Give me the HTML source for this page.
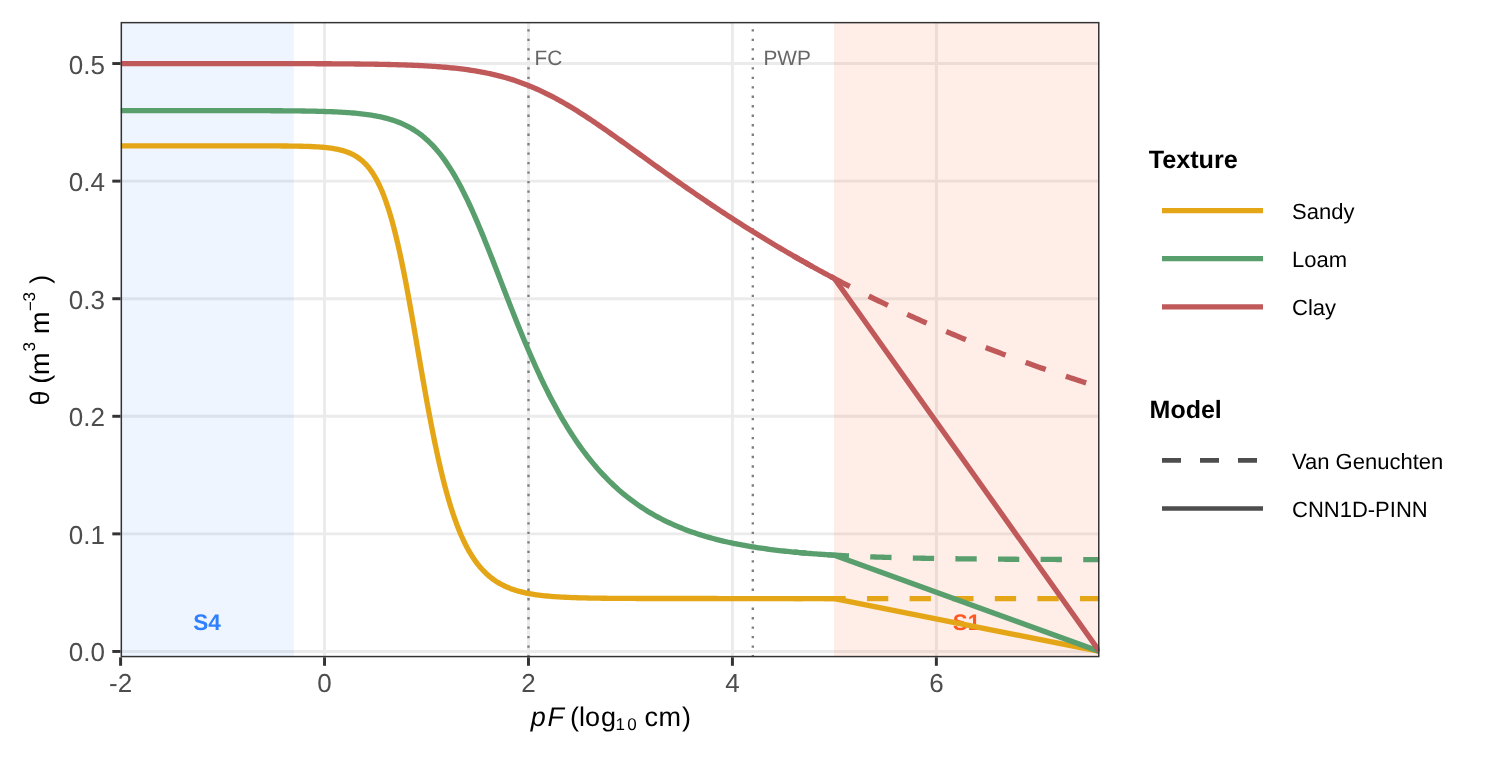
<!DOCTYPE html>
<html><head><meta charset="utf-8"><style>html,body{margin:0;padding:0;background:#fff;width:1500px;height:760px;overflow:hidden;}svg{display:block;font-family:"Liberation Sans",sans-serif;text-rendering:geometricPrecision;}</style></head><body><div style="will-change:transform;width:1500px;height:760px">
<svg width="1500" height="760" viewBox="0 0 1500 760" font-family='"Liberation Sans", sans-serif'>
<rect x="0" y="0" width="1500" height="760" fill="#FFFFFF"/>
<defs><clipPath id="pc"><rect x="120.6" y="21.9" width="978.90" height="635.40"/></clipPath></defs>
<g clip-path="url(#pc)">
<line x1="120.6" x2="1099.5" y1="651.45" y2="651.45" stroke="#EBEBEB" stroke-width="2.96"/>
<line x1="120.6" x2="1099.5" y1="533.87" y2="533.87" stroke="#EBEBEB" stroke-width="2.96"/>
<line x1="120.6" x2="1099.5" y1="416.29" y2="416.29" stroke="#EBEBEB" stroke-width="2.96"/>
<line x1="120.6" x2="1099.5" y1="298.71" y2="298.71" stroke="#EBEBEB" stroke-width="2.96"/>
<line x1="120.6" x2="1099.5" y1="181.13" y2="181.13" stroke="#EBEBEB" stroke-width="2.96"/>
<line x1="120.6" x2="1099.5" y1="63.55" y2="63.55" stroke="#EBEBEB" stroke-width="2.96"/>
<line y1="21.9" y2="657.3" x1="120.60" x2="120.60" stroke="#EBEBEB" stroke-width="2.96"/>
<line y1="21.9" y2="657.3" x1="324.54" x2="324.54" stroke="#EBEBEB" stroke-width="2.96"/>
<line y1="21.9" y2="657.3" x1="528.48" x2="528.48" stroke="#EBEBEB" stroke-width="2.96"/>
<line y1="21.9" y2="657.3" x1="732.42" x2="732.42" stroke="#EBEBEB" stroke-width="2.96"/>
<line y1="21.9" y2="657.3" x1="936.36" x2="936.36" stroke="#EBEBEB" stroke-width="2.96"/>
<rect x="120.6" y="21.9" width="173.24" height="635.40" fill="#2E80FF" fill-opacity="0.08"/>
<rect x="833.89" y="21.9" width="265.61" height="635.40" fill="#FF5722" fill-opacity="0.1"/>
<text x="207.02" y="630.00" font-size="22.5" font-weight="bold" text-anchor="middle" fill="#2E80FF">S4</text>
<text x="966.45" y="630.00" font-size="22.5" font-weight="bold" text-anchor="middle" fill="#FF5722">S1</text>
<line x1="528.48" x2="528.48" y1="657.3" y2="21.9" stroke="#7F7F7F" stroke-width="2.37" stroke-dasharray="2.37 7.11"/>
<line x1="752.81" x2="752.81" y1="657.3" y2="21.9" stroke="#7F7F7F" stroke-width="2.37" stroke-dasharray="2.37 7.11"/>
<text x="534.60" y="64.60" font-size="20.8" fill="#666666">FC</text>
<text x="763.50" y="64.60" font-size="20.8" fill="#666666">PWP</text>
<path d="M793.60,598.54 L795.64,598.54 L797.68,598.54 L799.72,598.54 L801.76,598.54 L803.80,598.54 L805.84,598.54 L807.88,598.54 L809.92,598.54 L811.96,598.54 L814.00,598.54 L816.04,598.54 L818.07,598.54 L820.11,598.54 L822.15,598.54 L824.19,598.54 L826.23,598.54 L828.27,598.54 L830.31,598.54 L832.35,598.54 L834.39,598.54 L836.43,598.54 L838.47,598.54 L840.51,598.54 L842.55,598.54 L844.59,598.54 L846.63,598.54 L848.67,598.54 L850.71,598.54 L852.74,598.54 L854.78,598.54 L856.82,598.54 L858.86,598.54 L860.90,598.54 L862.94,598.54 L864.98,598.54 L867.02,598.54 L869.06,598.54 L871.10,598.54 L873.14,598.54 L875.18,598.54 L877.22,598.54 L879.26,598.54 L881.30,598.54 L883.34,598.54 L885.38,598.54 L887.41,598.54 L889.45,598.54 L891.49,598.54 L893.53,598.54 L895.57,598.54 L897.61,598.54 L899.65,598.54 L901.69,598.54 L903.73,598.54 L905.77,598.54 L907.81,598.54 L909.85,598.54 L911.89,598.54 L913.93,598.54 L915.97,598.54 L918.01,598.54 L920.04,598.54 L922.08,598.54 L924.12,598.54 L926.16,598.54 L928.20,598.54 L930.24,598.54 L932.28,598.54 L934.32,598.54 L936.36,598.54 L938.40,598.54 L940.44,598.54 L942.48,598.54 L944.52,598.54 L946.56,598.54 L948.60,598.54 L950.64,598.54 L952.68,598.54 L954.71,598.54 L956.75,598.54 L958.79,598.54 L960.83,598.54 L962.87,598.54 L964.91,598.54 L966.95,598.54 L968.99,598.54 L971.03,598.54 L973.07,598.54 L975.11,598.54 L977.15,598.54 L979.19,598.54 L981.23,598.54 L983.27,598.54 L985.31,598.54 L987.35,598.54 L989.38,598.54 L991.42,598.54 L993.46,598.54 L995.50,598.54 L997.54,598.54 L999.58,598.54 L1001.62,598.54 L1003.66,598.54 L1005.70,598.54 L1007.74,598.54 L1009.78,598.54 L1011.82,598.54 L1013.86,598.54 L1015.90,598.54 L1017.94,598.54 L1019.98,598.54 L1022.01,598.54 L1024.05,598.54 L1026.09,598.54 L1028.13,598.54 L1030.17,598.54 L1032.21,598.54 L1034.25,598.54 L1036.29,598.54 L1038.33,598.54 L1040.37,598.54 L1042.41,598.54 L1044.45,598.54 L1046.49,598.54 L1048.53,598.54 L1050.57,598.54 L1052.61,598.54 L1054.65,598.54 L1056.68,598.54 L1058.72,598.54 L1060.76,598.54 L1062.80,598.54 L1064.84,598.54 L1066.88,598.54 L1068.92,598.54 L1070.96,598.54 L1073.00,598.54 L1075.04,598.54 L1077.08,598.54 L1079.12,598.54 L1081.16,598.54 L1083.20,598.54 L1085.24,598.54 L1087.28,598.54 L1089.32,598.54 L1091.35,598.54 L1093.39,598.54 L1095.43,598.54 L1097.47,598.54 L1099.51,598.54" fill="none" stroke="#E4A616" stroke-width="5.33" stroke-dasharray="21.3 21.3" stroke-dashoffset="11.8"/>
<path d="M793.60,552.07 L795.64,552.26 L797.68,552.45 L799.72,552.64 L801.76,552.82 L803.80,552.99 L805.84,553.17 L807.88,553.33 L809.92,553.50 L811.96,553.66 L814.00,553.81 L816.04,553.96 L818.07,554.11 L820.11,554.25 L822.15,554.39 L824.19,554.53 L826.23,554.66 L828.27,554.79 L830.31,554.92 L832.35,555.04 L834.39,555.16 L836.43,555.27 L838.47,555.39 L840.51,555.50 L842.55,555.61 L844.59,555.71 L846.63,555.81 L848.67,555.91 L850.71,556.01 L852.74,556.11 L854.78,556.20 L856.82,556.29 L858.86,556.38 L860.90,556.46 L862.94,556.55 L864.98,556.63 L867.02,556.71 L869.06,556.78 L871.10,556.86 L873.14,556.93 L875.18,557.00 L877.22,557.07 L879.26,557.14 L881.30,557.21 L883.34,557.27 L885.38,557.33 L887.41,557.40 L889.45,557.45 L891.49,557.51 L893.53,557.57 L895.57,557.62 L897.61,557.68 L899.65,557.73 L901.69,557.78 L903.73,557.83 L905.77,557.88 L907.81,557.93 L909.85,557.97 L911.89,558.02 L913.93,558.06 L915.97,558.11 L918.01,558.15 L920.04,558.19 L922.08,558.23 L924.12,558.27 L926.16,558.30 L928.20,558.34 L930.24,558.37 L932.28,558.41 L934.32,558.44 L936.36,558.48 L938.40,558.51 L940.44,558.54 L942.48,558.57 L944.52,558.60 L946.56,558.63 L948.60,558.66 L950.64,558.68 L952.68,558.71 L954.71,558.74 L956.75,558.76 L958.79,558.79 L960.83,558.81 L962.87,558.84 L964.91,558.86 L966.95,558.88 L968.99,558.90 L971.03,558.92 L973.07,558.94 L975.11,558.96 L977.15,558.98 L979.19,559.00 L981.23,559.02 L983.27,559.04 L985.31,559.06 L987.35,559.08 L989.38,559.09 L991.42,559.11 L993.46,559.12 L995.50,559.14 L997.54,559.16 L999.58,559.17 L1001.62,559.18 L1003.66,559.20 L1005.70,559.21 L1007.74,559.23 L1009.78,559.24 L1011.82,559.25 L1013.86,559.26 L1015.90,559.28 L1017.94,559.29 L1019.98,559.30 L1022.01,559.31 L1024.05,559.32 L1026.09,559.33 L1028.13,559.34 L1030.17,559.35 L1032.21,559.36 L1034.25,559.37 L1036.29,559.38 L1038.33,559.39 L1040.37,559.40 L1042.41,559.41 L1044.45,559.42 L1046.49,559.42 L1048.53,559.43 L1050.57,559.44 L1052.61,559.45 L1054.65,559.45 L1056.68,559.46 L1058.72,559.47 L1060.76,559.48 L1062.80,559.48 L1064.84,559.49 L1066.88,559.50 L1068.92,559.50 L1070.96,559.51 L1073.00,559.51 L1075.04,559.52 L1077.08,559.52 L1079.12,559.53 L1081.16,559.54 L1083.20,559.54 L1085.24,559.55 L1087.28,559.55 L1089.32,559.56 L1091.35,559.56 L1093.39,559.56 L1095.43,559.57 L1097.47,559.57 L1099.51,559.58" fill="none" stroke="#599E6D" stroke-width="5.33" stroke-dasharray="21.3 21.3" stroke-dashoffset="8.4"/>
<path d="M793.60,255.98 L795.64,257.15 L797.68,258.32 L799.72,259.48 L801.76,260.63 L803.80,261.78 L805.84,262.93 L807.88,264.07 L809.92,265.21 L811.96,266.34 L814.00,267.47 L816.04,268.60 L818.07,269.72 L820.11,270.83 L822.15,271.94 L824.19,273.05 L826.23,274.15 L828.27,275.24 L830.31,276.33 L832.35,277.42 L834.39,278.51 L836.43,279.58 L838.47,280.66 L840.51,281.73 L842.55,282.79 L844.59,283.85 L846.63,284.91 L848.67,285.96 L850.71,287.01 L852.74,288.05 L854.78,289.09 L856.82,290.13 L858.86,291.16 L860.90,292.18 L862.94,293.20 L864.98,294.22 L867.02,295.24 L869.06,296.25 L871.10,297.25 L873.14,298.25 L875.18,299.25 L877.22,300.24 L879.26,301.23 L881.30,302.21 L883.34,303.19 L885.38,304.17 L887.41,305.14 L889.45,306.11 L891.49,307.08 L893.53,308.04 L895.57,308.99 L897.61,309.95 L899.65,310.89 L901.69,311.84 L903.73,312.78 L905.77,313.72 L907.81,314.65 L909.85,315.58 L911.89,316.50 L913.93,317.42 L915.97,318.34 L918.01,319.25 L920.04,320.16 L922.08,321.07 L924.12,321.97 L926.16,322.87 L928.20,323.77 L930.24,324.66 L932.28,325.54 L934.32,326.43 L936.36,327.31 L938.40,328.18 L940.44,329.06 L942.48,329.93 L944.52,330.79 L946.56,331.65 L948.60,332.51 L950.64,333.37 L952.68,334.22 L954.71,335.07 L956.75,335.91 L958.79,336.75 L960.83,337.59 L962.87,338.42 L964.91,339.25 L966.95,340.08 L968.99,340.90 L971.03,341.72 L973.07,342.54 L975.11,343.35 L977.15,344.16 L979.19,344.97 L981.23,345.77 L983.27,346.57 L985.31,347.37 L987.35,348.16 L989.38,348.95 L991.42,349.74 L993.46,350.52 L995.50,351.30 L997.54,352.08 L999.58,352.85 L1001.62,353.62 L1003.66,354.39 L1005.70,355.15 L1007.74,355.91 L1009.78,356.67 L1011.82,357.42 L1013.86,358.17 L1015.90,358.92 L1017.94,359.67 L1019.98,360.41 L1022.01,361.15 L1024.05,361.88 L1026.09,362.62 L1028.13,363.35 L1030.17,364.07 L1032.21,364.80 L1034.25,365.52 L1036.29,366.23 L1038.33,366.95 L1040.37,367.66 L1042.41,368.37 L1044.45,369.08 L1046.49,369.78 L1048.53,370.48 L1050.57,371.18 L1052.61,371.87 L1054.65,372.56 L1056.68,373.25 L1058.72,373.94 L1060.76,374.62 L1062.80,375.30 L1064.84,375.97 L1066.88,376.65 L1068.92,377.32 L1070.96,377.99 L1073.00,378.65 L1075.04,379.32 L1077.08,379.98 L1079.12,380.64 L1081.16,381.29 L1083.20,381.94 L1085.24,382.59 L1087.28,383.24 L1089.32,383.88 L1091.35,384.52 L1093.39,385.16 L1095.43,385.80 L1097.47,386.43 L1099.51,387.06" fill="none" stroke="#C0595A" stroke-width="5.33" stroke-dasharray="21.3 21.3" stroke-dashoffset="0"/>
<path d="M120.60,145.86 L122.64,145.86 L124.68,145.86 L126.72,145.86 L128.76,145.86 L130.80,145.86 L132.84,145.86 L134.88,145.86 L136.92,145.86 L138.95,145.86 L140.99,145.86 L143.03,145.86 L145.07,145.86 L147.11,145.86 L149.15,145.86 L151.19,145.86 L153.23,145.86 L155.27,145.86 L157.31,145.86 L159.35,145.86 L161.39,145.86 L163.43,145.86 L165.47,145.86 L167.51,145.86 L169.55,145.86 L171.58,145.86 L173.62,145.86 L175.66,145.86 L177.70,145.86 L179.74,145.86 L181.78,145.86 L183.82,145.86 L185.86,145.86 L187.90,145.86 L189.94,145.86 L191.98,145.86 L194.02,145.86 L196.06,145.86 L198.10,145.86 L200.14,145.86 L202.18,145.86 L204.22,145.86 L206.25,145.86 L208.29,145.86 L210.33,145.86 L212.37,145.86 L214.41,145.86 L216.45,145.86 L218.49,145.86 L220.53,145.86 L222.57,145.86 L224.61,145.86 L226.65,145.86 L228.69,145.86 L230.73,145.86 L232.77,145.86 L234.81,145.86 L236.85,145.86 L238.89,145.86 L240.92,145.87 L242.96,145.87 L245.00,145.87 L247.04,145.87 L249.08,145.87 L251.12,145.87 L253.16,145.88 L255.20,145.88 L257.24,145.88 L259.28,145.89 L261.32,145.89 L263.36,145.90 L265.40,145.90 L267.44,145.91 L269.48,145.91 L271.52,145.92 L273.55,145.93 L275.59,145.94 L277.63,145.95 L279.67,145.96 L281.71,145.98 L283.75,145.99 L285.79,146.01 L287.83,146.03 L289.87,146.05 L291.91,146.08 L293.95,146.11 L295.99,146.14 L298.03,146.18 L300.07,146.22 L302.11,146.27 L304.15,146.32 L306.19,146.38 L308.22,146.45 L310.26,146.53 L312.30,146.62 L314.34,146.72 L316.38,146.83 L318.42,146.96 L320.46,147.11 L322.50,147.27 L324.54,147.45 L326.58,147.66 L328.62,147.90 L330.66,148.16 L332.70,148.47 L334.74,148.81 L336.78,149.19 L338.82,149.62 L340.86,150.11 L342.89,150.66 L344.93,151.28 L346.97,151.98 L349.01,152.77 L351.05,153.66 L353.09,154.66 L355.13,155.79 L357.17,157.05 L359.21,158.47 L361.25,160.05 L363.29,161.83 L365.33,163.83 L367.37,166.05 L369.41,168.53 L371.45,171.30 L373.49,174.37 L375.52,177.78 L377.56,181.55 L379.60,185.71 L381.64,190.29 L383.68,195.32 L385.72,200.81 L387.76,206.80 L389.80,213.31 L391.84,220.33 L393.88,227.90 L395.92,236.00 L397.96,244.63 L400.00,253.77 L402.04,263.42 L404.08,273.52 L406.12,284.05 L408.16,294.95 L410.19,306.17 L412.23,317.64 L414.27,329.31 L416.31,341.09 L418.35,352.93 L420.39,364.74 L422.43,376.47 L424.47,388.05 L426.51,399.42 L428.55,410.53 L430.59,421.34 L432.63,431.80 L434.67,441.89 L436.71,451.57 L438.75,460.84 L440.79,469.69 L442.83,478.09 L444.86,486.07 L446.90,493.61 L448.94,500.73 L450.98,507.44 L453.02,513.74 L455.06,519.65 L457.10,525.20 L459.14,530.39 L461.18,535.24 L463.22,539.76 L465.26,543.99 L467.30,547.92 L469.34,551.59 L471.38,555.00 L473.42,558.17 L475.46,561.12 L477.50,563.85 L479.53,566.40 L481.57,568.76 L483.61,570.95 L485.65,572.98 L487.69,574.87 L489.73,576.62 L491.77,578.24 L493.81,579.74 L495.85,581.13 L497.89,582.42 L499.93,583.61 L501.97,584.72 L504.01,585.75 L506.05,586.70 L508.09,587.57 L510.13,588.39 L512.16,589.14 L514.20,589.84 L516.24,590.49 L518.28,591.09 L520.32,591.64 L522.36,592.15 L524.40,592.63 L526.44,593.07 L528.48,593.48 L530.52,593.85 L532.56,594.20 L534.60,594.52 L536.64,594.82 L538.68,595.10 L540.72,595.35 L542.76,595.59 L544.80,595.81 L546.83,596.01 L548.87,596.20 L550.91,596.38 L552.95,596.54 L554.99,596.69 L557.03,596.82 L559.07,596.95 L561.11,597.07 L563.15,597.18 L565.19,597.28 L567.23,597.37 L569.27,597.46 L571.31,597.54 L573.35,597.62 L575.39,597.68 L577.43,597.75 L579.47,597.81 L581.50,597.86 L583.54,597.91 L585.58,597.96 L587.62,598.00 L589.66,598.04 L591.70,598.08 L593.74,598.11 L595.78,598.14 L597.82,598.17 L599.86,598.20 L601.90,598.23 L603.94,598.25 L605.98,598.27 L608.02,598.29 L610.06,598.31 L612.10,598.33 L614.13,598.34 L616.17,598.36 L618.21,598.37 L620.25,598.38 L622.29,598.39 L624.33,598.41 L626.37,598.42 L628.41,598.42 L630.45,598.43 L632.49,598.44 L634.53,598.45 L636.57,598.46 L638.61,598.46 L640.65,598.47 L642.69,598.47 L644.73,598.48 L646.77,598.48 L648.80,598.49 L650.84,598.49 L652.88,598.49 L654.92,598.50 L656.96,598.50 L659.00,598.50 L661.04,598.51 L663.08,598.51 L665.12,598.51 L667.16,598.51 L669.20,598.51 L671.24,598.52 L673.28,598.52 L675.32,598.52 L677.36,598.52 L679.40,598.52 L681.44,598.52 L683.47,598.52 L685.51,598.53 L687.55,598.53 L689.59,598.53 L691.63,598.53 L693.67,598.53 L695.71,598.53 L697.75,598.53 L699.79,598.53 L701.83,598.53 L703.87,598.53 L705.91,598.53 L707.95,598.53 L709.99,598.53 L712.03,598.53 L714.07,598.53 L716.10,598.53 L718.14,598.54 L720.18,598.54 L722.22,598.54 L724.26,598.54 L726.30,598.54 L728.34,598.54 L730.38,598.54 L732.42,598.54 L734.46,598.54 L736.50,598.54 L738.54,598.54 L740.58,598.54 L742.62,598.54 L744.66,598.54 L746.70,598.54 L748.74,598.54 L750.77,598.54 L752.81,598.54 L754.85,598.54 L756.89,598.54 L758.93,598.54 L760.97,598.54 L763.01,598.54 L765.05,598.54 L767.09,598.54 L769.13,598.54 L771.17,598.54 L773.21,598.54 L775.25,598.54 L777.29,598.54 L779.33,598.54 L781.37,598.54 L783.40,598.54 L785.44,598.54 L787.48,598.54 L789.52,598.54 L791.56,598.54 L793.60,598.54 L795.64,598.54 L797.68,598.54 L799.72,598.54 L801.76,598.54 L803.80,598.54 L805.84,598.54 L807.88,598.54 L809.92,598.54 L811.96,598.54 L814.00,598.54 L816.04,598.54 L818.07,598.54 L820.11,598.54 L822.15,598.54 L824.19,598.54 L826.23,598.54 L828.27,598.54 L830.31,598.54 L832.35,598.54 L834.39,598.54 L1099.51,651.45" fill="none" stroke="#E4A616" stroke-width="5.33" stroke-linejoin="round"/>
<path d="M120.60,110.58 L122.64,110.58 L124.68,110.58 L126.72,110.58 L128.76,110.58 L130.80,110.58 L132.84,110.58 L134.88,110.58 L136.92,110.58 L138.95,110.58 L140.99,110.58 L143.03,110.58 L145.07,110.58 L147.11,110.58 L149.15,110.58 L151.19,110.58 L153.23,110.58 L155.27,110.58 L157.31,110.58 L159.35,110.58 L161.39,110.58 L163.43,110.59 L165.47,110.59 L167.51,110.59 L169.55,110.59 L171.58,110.59 L173.62,110.59 L175.66,110.59 L177.70,110.59 L179.74,110.59 L181.78,110.59 L183.82,110.59 L185.86,110.59 L187.90,110.59 L189.94,110.59 L191.98,110.59 L194.02,110.59 L196.06,110.59 L198.10,110.59 L200.14,110.59 L202.18,110.59 L204.22,110.60 L206.25,110.60 L208.29,110.60 L210.33,110.60 L212.37,110.60 L214.41,110.60 L216.45,110.60 L218.49,110.60 L220.53,110.61 L222.57,110.61 L224.61,110.61 L226.65,110.61 L228.69,110.61 L230.73,110.62 L232.77,110.62 L234.81,110.62 L236.85,110.62 L238.89,110.63 L240.92,110.63 L242.96,110.63 L245.00,110.64 L247.04,110.64 L249.08,110.65 L251.12,110.65 L253.16,110.65 L255.20,110.66 L257.24,110.67 L259.28,110.67 L261.32,110.68 L263.36,110.69 L265.40,110.69 L267.44,110.70 L269.48,110.71 L271.52,110.72 L273.55,110.73 L275.59,110.74 L277.63,110.75 L279.67,110.77 L281.71,110.78 L283.75,110.80 L285.79,110.81 L287.83,110.83 L289.87,110.85 L291.91,110.87 L293.95,110.89 L295.99,110.91 L298.03,110.94 L300.07,110.96 L302.11,110.99 L304.15,111.02 L306.19,111.05 L308.22,111.09 L310.26,111.13 L312.30,111.17 L314.34,111.21 L316.38,111.26 L318.42,111.31 L320.46,111.36 L322.50,111.42 L324.54,111.48 L326.58,111.55 L328.62,111.62 L330.66,111.70 L332.70,111.78 L334.74,111.87 L336.78,111.96 L338.82,112.06 L340.86,112.17 L342.89,112.29 L344.93,112.42 L346.97,112.55 L349.01,112.70 L351.05,112.86 L353.09,113.02 L355.13,113.20 L357.17,113.40 L359.21,113.60 L361.25,113.82 L363.29,114.06 L365.33,114.32 L367.37,114.59 L369.41,114.88 L371.45,115.20 L373.49,115.54 L375.52,115.90 L377.56,116.28 L379.60,116.70 L381.64,117.14 L383.68,117.61 L385.72,118.12 L387.76,118.66 L389.80,119.24 L391.84,119.86 L393.88,120.53 L395.92,121.24 L397.96,121.99 L400.00,122.80 L402.04,123.66 L404.08,124.58 L406.12,125.55 L408.16,126.60 L410.19,127.70 L412.23,128.88 L414.27,130.14 L416.31,131.47 L418.35,132.88 L420.39,134.38 L422.43,135.97 L424.47,137.65 L426.51,139.43 L428.55,141.32 L430.59,143.30 L432.63,145.40 L434.67,147.60 L436.71,149.93 L438.75,152.37 L440.79,154.93 L442.83,157.62 L444.86,160.43 L446.90,163.38 L448.94,166.45 L450.98,169.65 L453.02,172.98 L455.06,176.45 L457.10,180.04 L459.14,183.77 L461.18,187.62 L463.22,191.60 L465.26,195.70 L467.30,199.91 L469.34,204.25 L471.38,208.69 L473.42,213.24 L475.46,217.88 L477.50,222.63 L479.53,227.45 L481.57,232.36 L483.61,237.34 L485.65,242.38 L487.69,247.48 L489.73,252.64 L491.77,257.83 L493.81,263.06 L495.85,268.31 L497.89,273.58 L499.93,278.86 L501.97,284.15 L504.01,289.43 L506.05,294.70 L508.09,299.95 L510.13,305.18 L512.16,310.38 L514.20,315.54 L516.24,320.67 L518.28,325.74 L520.32,330.77 L522.36,335.75 L524.40,340.66 L526.44,345.51 L528.48,350.30 L530.52,355.03 L532.56,359.68 L534.60,364.26 L536.64,368.77 L538.68,373.20 L540.72,377.56 L542.76,381.84 L544.80,386.04 L546.83,390.16 L548.87,394.20 L550.91,398.17 L552.95,402.05 L554.99,405.86 L557.03,409.59 L559.07,413.24 L561.11,416.81 L563.15,420.31 L565.19,423.73 L567.23,427.07 L569.27,430.34 L571.31,433.54 L573.35,436.66 L575.39,439.71 L577.43,442.70 L579.47,445.61 L581.50,448.45 L583.54,451.23 L585.58,453.94 L587.62,456.59 L589.66,459.17 L591.70,461.70 L593.74,464.16 L595.78,466.56 L597.82,468.91 L599.86,471.19 L601.90,473.42 L603.94,475.60 L605.98,477.72 L608.02,479.79 L610.06,481.81 L612.10,483.78 L614.13,485.70 L616.17,487.58 L618.21,489.40 L620.25,491.18 L622.29,492.92 L624.33,494.61 L626.37,496.26 L628.41,497.87 L630.45,499.44 L632.49,500.97 L634.53,502.46 L636.57,503.92 L638.61,505.33 L640.65,506.71 L642.69,508.06 L644.73,509.37 L646.77,510.65 L648.80,511.90 L650.84,513.12 L652.88,514.30 L654.92,515.46 L656.96,516.58 L659.00,517.68 L661.04,518.75 L663.08,519.79 L665.12,520.81 L667.16,521.80 L669.20,522.76 L671.24,523.70 L673.28,524.62 L675.32,525.51 L677.36,526.38 L679.40,527.23 L681.44,528.06 L683.47,528.86 L685.51,529.65 L687.55,530.42 L689.59,531.16 L691.63,531.89 L693.67,532.60 L695.71,533.29 L697.75,533.96 L699.79,534.62 L701.83,535.26 L703.87,535.88 L705.91,536.49 L707.95,537.08 L709.99,537.66 L712.03,538.22 L714.07,538.77 L716.10,539.30 L718.14,539.82 L720.18,540.33 L722.22,540.82 L724.26,541.30 L726.30,541.77 L728.34,542.23 L730.38,542.67 L732.42,543.11 L734.46,543.53 L736.50,543.95 L738.54,544.35 L740.58,544.74 L742.62,545.12 L744.66,545.49 L746.70,545.86 L748.74,546.21 L750.77,546.55 L752.81,546.89 L754.85,547.22 L756.89,547.53 L758.93,547.85 L760.97,548.15 L763.01,548.44 L765.05,548.73 L767.09,549.01 L769.13,549.28 L771.17,549.55 L773.21,549.81 L775.25,550.06 L777.29,550.31 L779.33,550.55 L781.37,550.78 L783.40,551.01 L785.44,551.23 L787.48,551.45 L789.52,551.66 L791.56,551.87 L793.60,552.07 L795.64,552.26 L797.68,552.45 L799.72,552.64 L801.76,552.82 L803.80,552.99 L805.84,553.17 L807.88,553.33 L809.92,553.50 L811.96,553.66 L814.00,553.81 L816.04,553.96 L818.07,554.11 L820.11,554.25 L822.15,554.39 L824.19,554.53 L826.23,554.66 L828.27,554.79 L830.31,554.92 L832.35,555.04 L834.39,555.16 L1099.51,651.45" fill="none" stroke="#599E6D" stroke-width="5.33" stroke-linejoin="round"/>
<path d="M120.60,63.55 L122.64,63.55 L124.68,63.55 L126.72,63.55 L128.76,63.55 L130.80,63.55 L132.84,63.55 L134.88,63.55 L136.92,63.55 L138.95,63.55 L140.99,63.55 L143.03,63.55 L145.07,63.55 L147.11,63.55 L149.15,63.55 L151.19,63.55 L153.23,63.55 L155.27,63.55 L157.31,63.55 L159.35,63.55 L161.39,63.55 L163.43,63.55 L165.47,63.55 L167.51,63.55 L169.55,63.55 L171.58,63.55 L173.62,63.55 L175.66,63.56 L177.70,63.56 L179.74,63.56 L181.78,63.56 L183.82,63.56 L185.86,63.56 L187.90,63.56 L189.94,63.56 L191.98,63.56 L194.02,63.56 L196.06,63.56 L198.10,63.56 L200.14,63.56 L202.18,63.56 L204.22,63.56 L206.25,63.56 L208.29,63.56 L210.33,63.56 L212.37,63.56 L214.41,63.56 L216.45,63.56 L218.49,63.56 L220.53,63.57 L222.57,63.57 L224.61,63.57 L226.65,63.57 L228.69,63.57 L230.73,63.57 L232.77,63.57 L234.81,63.57 L236.85,63.57 L238.89,63.57 L240.92,63.58 L242.96,63.58 L245.00,63.58 L247.04,63.58 L249.08,63.58 L251.12,63.58 L253.16,63.58 L255.20,63.59 L257.24,63.59 L259.28,63.59 L261.32,63.59 L263.36,63.59 L265.40,63.60 L267.44,63.60 L269.48,63.60 L271.52,63.60 L273.55,63.61 L275.59,63.61 L277.63,63.61 L279.67,63.62 L281.71,63.62 L283.75,63.62 L285.79,63.63 L287.83,63.63 L289.87,63.64 L291.91,63.64 L293.95,63.64 L295.99,63.65 L298.03,63.65 L300.07,63.66 L302.11,63.67 L304.15,63.67 L306.19,63.68 L308.22,63.68 L310.26,63.69 L312.30,63.70 L314.34,63.71 L316.38,63.71 L318.42,63.72 L320.46,63.73 L322.50,63.74 L324.54,63.75 L326.58,63.76 L328.62,63.77 L330.66,63.78 L332.70,63.79 L334.74,63.81 L336.78,63.82 L338.82,63.83 L340.86,63.85 L342.89,63.86 L344.93,63.88 L346.97,63.90 L349.01,63.91 L351.05,63.93 L353.09,63.95 L355.13,63.97 L357.17,63.99 L359.21,64.02 L361.25,64.04 L363.29,64.07 L365.33,64.09 L367.37,64.12 L369.41,64.15 L371.45,64.18 L373.49,64.21 L375.52,64.25 L377.56,64.28 L379.60,64.32 L381.64,64.36 L383.68,64.40 L385.72,64.44 L387.76,64.49 L389.80,64.53 L391.84,64.58 L393.88,64.64 L395.92,64.69 L397.96,64.75 L400.00,64.81 L402.04,64.87 L404.08,64.94 L406.12,65.01 L408.16,65.09 L410.19,65.16 L412.23,65.24 L414.27,65.33 L416.31,65.42 L418.35,65.51 L420.39,65.61 L422.43,65.71 L424.47,65.82 L426.51,65.93 L428.55,66.05 L430.59,66.18 L432.63,66.31 L434.67,66.44 L436.71,66.59 L438.75,66.74 L440.79,66.89 L442.83,67.06 L444.86,67.23 L446.90,67.41 L448.94,67.60 L450.98,67.79 L453.02,68.00 L455.06,68.21 L457.10,68.44 L459.14,68.67 L461.18,68.92 L463.22,69.17 L465.26,69.44 L467.30,69.72 L469.34,70.01 L471.38,70.31 L473.42,70.63 L475.46,70.96 L477.50,71.30 L479.53,71.66 L481.57,72.03 L483.61,72.42 L485.65,72.82 L487.69,73.24 L489.73,73.67 L491.77,74.13 L493.81,74.59 L495.85,75.08 L497.89,75.58 L499.93,76.11 L501.97,76.65 L504.01,77.21 L506.05,77.79 L508.09,78.39 L510.13,79.00 L512.16,79.64 L514.20,80.30 L516.24,80.99 L518.28,81.69 L520.32,82.41 L522.36,83.16 L524.40,83.92 L526.44,84.71 L528.48,85.52 L530.52,86.35 L532.56,87.20 L534.60,88.08 L536.64,88.98 L538.68,89.89 L540.72,90.83 L542.76,91.80 L544.80,92.78 L546.83,93.78 L548.87,94.81 L550.91,95.85 L552.95,96.91 L554.99,98.00 L557.03,99.10 L559.07,100.22 L561.11,101.37 L563.15,102.53 L565.19,103.70 L567.23,104.90 L569.27,106.11 L571.31,107.34 L573.35,108.58 L575.39,109.84 L577.43,111.11 L579.47,112.40 L581.50,113.70 L583.54,115.02 L585.58,116.34 L587.62,117.68 L589.66,119.03 L591.70,120.39 L593.74,121.76 L595.78,123.14 L597.82,124.53 L599.86,125.93 L601.90,127.34 L603.94,128.75 L605.98,130.17 L608.02,131.60 L610.06,133.04 L612.10,134.48 L614.13,135.92 L616.17,137.37 L618.21,138.82 L620.25,140.28 L622.29,141.74 L624.33,143.21 L626.37,144.67 L628.41,146.14 L630.45,147.61 L632.49,149.08 L634.53,150.56 L636.57,152.03 L638.61,153.51 L640.65,154.98 L642.69,156.46 L644.73,157.93 L646.77,159.40 L648.80,160.88 L650.84,162.35 L652.88,163.82 L654.92,165.29 L656.96,166.76 L659.00,168.22 L661.04,169.68 L663.08,171.14 L665.12,172.60 L667.16,174.06 L669.20,175.51 L671.24,176.96 L673.28,178.41 L675.32,179.85 L677.36,181.29 L679.40,182.73 L681.44,184.16 L683.47,185.59 L685.51,187.02 L687.55,188.44 L689.59,189.85 L691.63,191.27 L693.67,192.68 L695.71,194.08 L697.75,195.48 L699.79,196.88 L701.83,198.27 L703.87,199.66 L705.91,201.04 L707.95,202.42 L709.99,203.80 L712.03,205.17 L714.07,206.53 L716.10,207.89 L718.14,209.25 L720.18,210.60 L722.22,211.95 L724.26,213.29 L726.30,214.62 L728.34,215.95 L730.38,217.28 L732.42,218.60 L734.46,219.92 L736.50,221.23 L738.54,222.54 L740.58,223.84 L742.62,225.14 L744.66,226.43 L746.70,227.72 L748.74,229.00 L750.77,230.28 L752.81,231.55 L754.85,232.82 L756.89,234.08 L758.93,235.34 L760.97,236.59 L763.01,237.84 L765.05,239.09 L767.09,240.32 L769.13,241.56 L771.17,242.79 L773.21,244.01 L775.25,245.23 L777.29,246.44 L779.33,247.65 L781.37,248.86 L783.40,250.05 L785.44,251.25 L787.48,252.44 L789.52,253.62 L791.56,254.80 L793.60,255.98 L795.64,257.15 L797.68,258.32 L799.72,259.48 L801.76,260.63 L803.80,261.78 L805.84,262.93 L807.88,264.07 L809.92,265.21 L811.96,266.34 L814.00,267.47 L816.04,268.60 L818.07,269.72 L820.11,270.83 L822.15,271.94 L824.19,273.05 L826.23,274.15 L828.27,275.24 L830.31,276.33 L832.35,277.42 L834.39,278.51 L1099.51,651.45" fill="none" stroke="#C0595A" stroke-width="5.33" stroke-linejoin="round"/>
</g>
<rect x="121.34" y="22.64" width="977.42" height="633.92" fill="none" stroke="#333333" stroke-width="1.48"/>
<line x1="112.30" x2="120.6" y1="651.45" y2="651.45" stroke="#333333" stroke-width="2.96"/>
<text x="105.00" y="661.45" font-size="26" text-anchor="end" fill="#4D4D4D">0.0</text>
<line x1="112.30" x2="120.6" y1="533.87" y2="533.87" stroke="#333333" stroke-width="2.96"/>
<text x="105.00" y="543.87" font-size="26" text-anchor="end" fill="#4D4D4D">0.1</text>
<line x1="112.30" x2="120.6" y1="416.29" y2="416.29" stroke="#333333" stroke-width="2.96"/>
<text x="105.00" y="426.29" font-size="26" text-anchor="end" fill="#4D4D4D">0.2</text>
<line x1="112.30" x2="120.6" y1="298.71" y2="298.71" stroke="#333333" stroke-width="2.96"/>
<text x="105.00" y="308.71" font-size="26" text-anchor="end" fill="#4D4D4D">0.3</text>
<line x1="112.30" x2="120.6" y1="181.13" y2="181.13" stroke="#333333" stroke-width="2.96"/>
<text x="105.00" y="191.13" font-size="26" text-anchor="end" fill="#4D4D4D">0.4</text>
<line x1="112.30" x2="120.6" y1="63.55" y2="63.55" stroke="#333333" stroke-width="2.96"/>
<text x="105.00" y="73.55" font-size="26" text-anchor="end" fill="#4D4D4D">0.5</text>
<line y1="657.3" y2="665.80" x1="120.60" x2="120.60" stroke="#333333" stroke-width="2.96"/>
<text x="120.60" y="692.40" font-size="26" text-anchor="middle" fill="#4D4D4D">-2</text>
<line y1="657.3" y2="665.80" x1="324.54" x2="324.54" stroke="#333333" stroke-width="2.96"/>
<text x="324.54" y="692.40" font-size="26" text-anchor="middle" fill="#4D4D4D">0</text>
<line y1="657.3" y2="665.80" x1="528.48" x2="528.48" stroke="#333333" stroke-width="2.96"/>
<text x="528.48" y="692.40" font-size="26" text-anchor="middle" fill="#4D4D4D">2</text>
<line y1="657.3" y2="665.80" x1="732.42" x2="732.42" stroke="#333333" stroke-width="2.96"/>
<text x="732.42" y="692.40" font-size="26" text-anchor="middle" fill="#4D4D4D">4</text>
<line y1="657.3" y2="665.80" x1="936.36" x2="936.36" stroke="#333333" stroke-width="2.96"/>
<text x="936.36" y="692.40" font-size="26" text-anchor="middle" fill="#4D4D4D">6</text>
<text x="530.65" y="725.90" font-size="27" font-style="italic" fill="#000">p</text>
<text x="547.62" y="725.90" font-size="27" font-style="italic" fill="#000">F</text>
<text x="569.94" y="725.90" font-size="27" fill="#000">(</text>
<text x="579.05" y="725.90" font-size="27" fill="#000">l</text>
<text x="584.97" y="725.90" font-size="27" fill="#000">o</text>
<text x="600.93" y="725.90" font-size="27" fill="#000">g</text>
<text x="615.44" y="730.40" font-size="17" fill="#000">1</text>
<text x="627.27" y="730.40" font-size="17" fill="#000">0</text>
<text x="644.44" y="725.90" font-size="27" fill="#000">c</text>
<text x="658.61" y="725.90" font-size="27" fill="#000">m</text>
<text x="682.10" y="725.90" font-size="27" fill="#000">)</text>
<text transform="translate(48.7,405.49) rotate(-90)" font-size="27" fill="#000">θ</text>
<text transform="translate(48.7,383.76) rotate(-90)" font-size="27" fill="#000">(</text>
<text transform="translate(48.7,375.09) rotate(-90)" font-size="27" fill="#000">m</text>
<text transform="translate(34.5,351.5) rotate(-90)" font-size="17" fill="#000">3</text>
<text transform="translate(48.7,334.04) rotate(-90)" font-size="27" fill="#000">m</text>
<text transform="translate(34.5,301.5) rotate(-90)" font-size="17" fill="#000">3</text>
<text transform="translate(36.1,311.1) rotate(-90)" font-size="17" fill="#000">−</text>
<text transform="translate(48.7,283.8) rotate(-90)" font-size="27" fill="#000">)</text>
<text x="1148.70" y="167.60" font-size="25.2" font-weight="bold" fill="#000">Texture</text>
<line x1="1162" x2="1263" y1="210.60" y2="210.60" stroke="#E4A616" stroke-width="5.33"/>
<text x="1292.00" y="218.60" font-size="22" fill="#000">Sandy</text>
<line x1="1162" x2="1263" y1="258.70" y2="258.70" stroke="#599E6D" stroke-width="5.33"/>
<text x="1292.00" y="266.70" font-size="22" fill="#000">Loam</text>
<line x1="1162" x2="1263" y1="306.80" y2="306.80" stroke="#C0595A" stroke-width="5.33"/>
<text x="1292.00" y="314.80" font-size="22" fill="#000">Clay</text>
<text x="1149.60" y="417.80" font-size="25.0" font-weight="bold" fill="#000">Model</text>
<line x1="1162" x2="1263" y1="460.4" y2="460.4" stroke="#4D4D4D" stroke-width="4.74" stroke-dasharray="19 19"/>
<text x="1292.00" y="469.00" font-size="22" fill="#000">Van Genuchten</text>
<line x1="1162" x2="1263" y1="508.5" y2="508.5" stroke="#4D4D4D" stroke-width="4.74"/>
<text x="1292.00" y="517.00" font-size="22" fill="#000">CNN1D-PINN</text>
</svg>
</div></body></html>
